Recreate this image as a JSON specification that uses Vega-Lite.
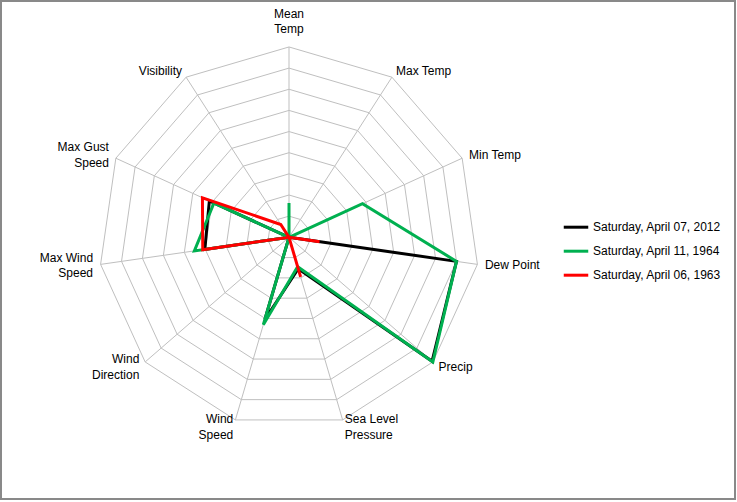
{
  "$schema": "https://vega.github.io/schema/vega-lite/v6.json",
  "width": 734,
  "height": 498,
  "autosize": {"type": "none"},
  "padding": {"left": 1, "top": 1, "right": 2, "bottom": 3},
  "background": "white",
  "config": {
    "view": {"stroke": "#898989", "strokeWidth": 2},
    "font": "Liberation Sans",
    "text": {"fontSize": 12, "lineHeight": 15.5, "lineBreak": "\n", "color": "#000000"}
  },
  "datasets": {
    "axes": [
      {"axis": "Mean Temp", "label": "Mean\nTemp", "k": 0, "rings": [0, 1, 2, 3, 4, 5, 6, 7, 8, 9]},
      {"axis": "Max Temp", "label": "Max Temp", "k": 1, "rings": [0, 1, 2, 3, 4, 5, 6, 7, 8, 9]},
      {"axis": "Min Temp", "label": "Min Temp", "k": 2, "rings": [0, 1, 2, 3, 4, 5, 6, 7, 8, 9]},
      {"axis": "Dew Point", "label": "Dew Point", "k": 3, "rings": [0, 1, 2, 3, 4, 5, 6, 7, 8, 9]},
      {"axis": "Precip", "label": "Precip", "k": 4, "rings": [0, 1, 2, 3, 4, 5, 6, 7, 8, 9]},
      {"axis": "Sea Level Pressure", "label": "Sea Level\nPressure", "k": 5, "rings": [0, 1, 2, 3, 4, 5, 6, 7, 8, 9]},
      {"axis": "Wind Speed", "label": "Wind\nSpeed", "k": 6, "rings": [0, 1, 2, 3, 4, 5, 6, 7, 8, 9]},
      {"axis": "Wind Direction", "label": "Wind\nDirection", "k": 7, "rings": [0, 1, 2, 3, 4, 5, 6, 7, 8, 9]},
      {"axis": "Max Wind Speed", "label": "Max Wind\nSpeed", "k": 8, "rings": [0, 1, 2, 3, 4, 5, 6, 7, 8, 9]},
      {"axis": "Max Gust Speed", "label": "Max Gust\nSpeed", "k": 9, "rings": [0, 1, 2, 3, 4, 5, 6, 7, 8, 9]},
      {"axis": "Visibility", "label": "Visibility", "k": 10, "rings": [0, 1, 2, 3, 4, 5, 6, 7, 8, 9]}
    ],
    "weather": [
      {"date": "Saturday, April 07, 2012", "axis": "Mean Temp", "value": 0},
      {"date": "Saturday, April 07, 2012", "axis": "Max Temp", "value": 0},
      {"date": "Saturday, April 07, 2012", "axis": "Min Temp", "value": 0},
      {"date": "Saturday, April 07, 2012", "axis": "Dew Point", "value": 8.0},
      {"date": "Saturday, April 07, 2012", "axis": "Precip", "value": 8.95},
      {"date": "Saturday, April 07, 2012", "axis": "Sea Level Pressure", "value": 1.55},
      {"date": "Saturday, April 07, 2012", "axis": "Wind Speed", "value": 4.05},
      {"date": "Saturday, April 07, 2012", "axis": "Wind Direction", "value": 0},
      {"date": "Saturday, April 07, 2012", "axis": "Max Wind Speed", "value": 4.02},
      {"date": "Saturday, April 07, 2012", "axis": "Max Gust Speed", "value": 4.14},
      {"date": "Saturday, April 07, 2012", "axis": "Visibility", "value": 0},
      {"date": "Saturday, April 11, 1964", "axis": "Mean Temp", "value": 1.62},
      {"date": "Saturday, April 11, 1964", "axis": "Max Temp", "value": 0},
      {"date": "Saturday, April 11, 1964", "axis": "Min Temp", "value": 3.82},
      {"date": "Saturday, April 11, 1964", "axis": "Dew Point", "value": 8.0},
      {"date": "Saturday, April 11, 1964", "axis": "Precip", "value": 9.0},
      {"date": "Saturday, April 11, 1964", "axis": "Sea Level Pressure", "value": 1.45},
      {"date": "Saturday, April 11, 1964", "axis": "Wind Speed", "value": 4.31},
      {"date": "Saturday, April 11, 1964", "axis": "Wind Direction", "value": 0},
      {"date": "Saturday, April 11, 1964", "axis": "Max Wind Speed", "value": 4.52},
      {"date": "Saturday, April 11, 1964", "axis": "Max Gust Speed", "value": 3.9},
      {"date": "Saturday, April 11, 1964", "axis": "Visibility", "value": 0},
      {"date": "Saturday, April 06, 1963", "axis": "Mean Temp", "value": 0},
      {"date": "Saturday, April 06, 1963", "axis": "Max Temp", "value": 0},
      {"date": "Saturday, April 06, 1963", "axis": "Min Temp", "value": 0},
      {"date": "Saturday, April 06, 1963", "axis": "Dew Point", "value": 1.46},
      {"date": "Saturday, April 06, 1963", "axis": "Precip", "value": 0},
      {"date": "Saturday, April 06, 1963", "axis": "Sea Level Pressure", "value": 1.95},
      {"date": "Saturday, April 06, 1963", "axis": "Wind Speed", "value": 0},
      {"date": "Saturday, April 06, 1963", "axis": "Wind Direction", "value": 0},
      {"date": "Saturday, April 06, 1963", "axis": "Max Wind Speed", "value": 4.12},
      {"date": "Saturday, April 06, 1963", "axis": "Max Gust Speed", "value": 4.5},
      {"date": "Saturday, April 06, 1963", "axis": "Visibility", "value": 0.72}
    ]
  },
  "layer": [
    {
      "data": {"name": "axes"},
      "transform": [
        {"flatten": ["rings"], "as": ["ring"]},
        {"filter": "datum.ring > 0"},
        {"calculate": "datum.k * 2 * PI / 11", "as": "ang"},
        {"calculate": "datum.ring * sin(datum.ang)", "as": "x"},
        {"calculate": "datum.ring * cos(datum.ang)", "as": "y"}
      ],
      "mark": {"type": "line", "interpolate": "linear-closed", "stroke": "#bfbfbf", "strokeWidth": 1},
      "encoding": {
        "x": {"field": "x", "type": "quantitative", "scale": {"domain": [-13.617, 21.087], "nice": false, "zero": false}, "axis": null},
        "y": {"field": "y", "type": "quantitative", "scale": {"domain": [-12.374, 11.173], "nice": false, "zero": false}, "axis": null},
        "detail": {"field": "ring", "type": "nominal"},
        "order": {"field": "k", "type": "quantitative"}
      }
    },
    {
      "data": {"name": "axes"},
      "transform": [
        {"flatten": ["rings"], "as": ["ring"]},
        {"calculate": "datum.k * 2 * PI / 11", "as": "ang"},
        {"calculate": "datum.ring * sin(datum.ang)", "as": "x"},
        {"calculate": "datum.ring * cos(datum.ang)", "as": "y"}
      ],
      "mark": {"type": "line", "stroke": "#bfbfbf", "strokeWidth": 1},
      "encoding": {
        "x": {"field": "x", "type": "quantitative"},
        "y": {"field": "y", "type": "quantitative"},
        "detail": {"field": "axis", "type": "nominal"},
        "order": {"field": "ring", "type": "quantitative"}
      }
    },
    {
      "data": {"name": "weather"},
      "transform": [
        {"lookup": "axis", "from": {"data": {"name": "axes"}, "key": "axis", "fields": ["k"]}},
        {"calculate": "datum.k * 2 * PI / 11", "as": "ang"},
        {"calculate": "datum.value * sin(datum.ang)", "as": "x"},
        {"calculate": "datum.value * cos(datum.ang)", "as": "y"}
      ],
      "mark": {"type": "line", "interpolate": "linear-closed", "strokeWidth": 3},
      "encoding": {
        "x": {"field": "x", "type": "quantitative"},
        "y": {"field": "y", "type": "quantitative"},
        "order": {"field": "k", "type": "quantitative"},
        "color": {
          "field": "date",
          "type": "nominal",
          "scale": {
            "domain": ["Saturday, April 07, 2012", "Saturday, April 11, 1964", "Saturday, April 06, 1963"],
            "range": ["#000000", "#00b050", "#ff0000"]
          },
          "legend": {
            "title": null,
            "orient": "none",
            "legendX": 561,
            "legendY": 212.2,
            "symbolType": "stroke",
            "symbolSize": 600,
            "symbolStrokeWidth": 3,
            "labelFont": "Liberation Sans",
            "labelFontSize": 12,
            "labelColor": "#000000",
            "labelOffset": 3,
            "labelLimit": 300,
            "rowPadding": 4,
            "padding": 0
          }
        }
      }
    },
    {
      "data": {"name": "axes"},
      "transform": [
        {"calculate": "datum.k * 2 * PI / 11", "as": "ang"},
        {"filter": "sin(datum.ang) > 0.01 && indexof(datum.label, '\\n') < 0"},
        {"calculate": "9.36 * sin(datum.ang)", "as": "lx"},
        {"calculate": "9.36 * cos(datum.ang)", "as": "ly"}
      ],
      "mark": {"type": "text", "align": "left", "baseline": "middle"},
      "encoding": {
        "x": {"field": "lx", "type": "quantitative"},
        "y": {"field": "ly", "type": "quantitative"},
        "text": {"field": "label", "type": "nominal"}
      }
    },
    {
      "data": {"name": "axes"},
      "transform": [
        {"calculate": "datum.k * 2 * PI / 11", "as": "ang"},
        {"filter": "sin(datum.ang) > 0.01 && indexof(datum.label, '\\n') >= 0"},
        {"calculate": "9.36 * sin(datum.ang)", "as": "lx"},
        {"calculate": "9.36 * cos(datum.ang)", "as": "ly"}
      ],
      "mark": {"type": "text", "align": "left", "baseline": "middle", "dy": -7.75},
      "encoding": {
        "x": {"field": "lx", "type": "quantitative"},
        "y": {"field": "ly", "type": "quantitative"},
        "text": {"field": "label", "type": "nominal"}
      }
    },
    {
      "data": {"name": "axes"},
      "transform": [
        {"calculate": "datum.k * 2 * PI / 11", "as": "ang"},
        {"filter": "sin(datum.ang) < -0.01 && indexof(datum.label, '\\n') < 0"},
        {"calculate": "9.36 * sin(datum.ang)", "as": "lx"},
        {"calculate": "9.36 * cos(datum.ang)", "as": "ly"}
      ],
      "mark": {"type": "text", "align": "right", "baseline": "middle"},
      "encoding": {
        "x": {"field": "lx", "type": "quantitative"},
        "y": {"field": "ly", "type": "quantitative"},
        "text": {"field": "label", "type": "nominal"}
      }
    },
    {
      "data": {"name": "axes"},
      "transform": [
        {"calculate": "datum.k * 2 * PI / 11", "as": "ang"},
        {"filter": "sin(datum.ang) < -0.01 && indexof(datum.label, '\\n') >= 0"},
        {"calculate": "9.36 * sin(datum.ang)", "as": "lx"},
        {"calculate": "9.36 * cos(datum.ang)", "as": "ly"}
      ],
      "mark": {"type": "text", "align": "right", "baseline": "middle", "dy": -7.75},
      "encoding": {
        "x": {"field": "lx", "type": "quantitative"},
        "y": {"field": "ly", "type": "quantitative"},
        "text": {"field": "label", "type": "nominal"}
      }
    },
    {
      "data": {"name": "axes"},
      "transform": [
        {"filter": "datum.k == 0"},
        {"calculate": "9.36", "as": "ly"},
        {"calculate": "0", "as": "lx"}
      ],
      "mark": {"type": "text", "align": "center", "baseline": "bottom", "dy": -18.5},
      "encoding": {
        "x": {"field": "lx", "type": "quantitative"},
        "y": {"field": "ly", "type": "quantitative"},
        "text": {"field": "label", "type": "nominal"}
      }
    }
  ]
}
